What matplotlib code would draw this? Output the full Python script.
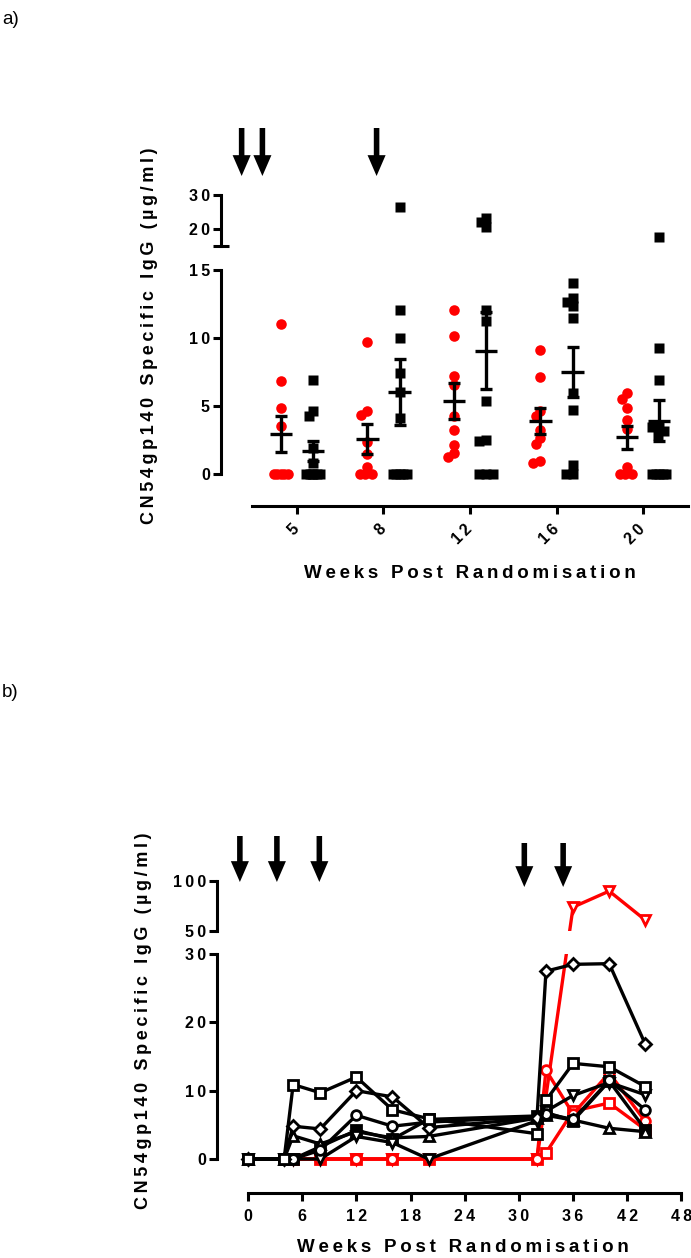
import numpy as np
import matplotlib
matplotlib.use('Agg')
import matplotlib.pyplot as plt
from matplotlib.transforms import blended_transform_factory

plt.rcParams['font.family'] = ['Liberation Sans', 'DejaVu Sans']
plt.rcParams['font.weight'] = 'bold'

RED = '#ff0000'
THIN = '\u2009'
W, H = 691, 1258

# ---------------- panel a: scatter per visit ----------------
weeks_a = ['5', '8', '12', '16', '20']
red_a_w5 = [11.0, 6.8, 4.8, 3.5, 0, 0, 0, 0, 0]
red_a_w8 = [9.7, 4.6, 4.3, 2.3, 1.4, 0.5, 0, 0, 0]
red_a_w12 = [12.0, 10.1, 7.2, 6.5, 4.2, 3.2, 2.1, 1.5, 1.2]
red_a_w16 = [9.1, 7.1, 4.6, 4.2, 3.2, 2.6, 2.2, 0.9, 0.8]
red_a_w20 = [5.9, 5.5, 4.8, 3.9, 3.3, 0.5, 0, 0, 0]
blk_a_w5 = [6.9, 4.6, 4.2, 1.9, 0.8, 0, 0, 0, 0, 0, 0]
blk_a_w8 = [26.4, 12.0, 10.0, 7.4, 6.0, 4.1, 0, 0, 0, 0, 0]
blk_a_w12 = [23.3, 22.0, 20.7, 12.0, 11.2, 5.3, 2.5, 2.4, 0, 0, 0]
blk_a_w16 = [14.0, 12.9, 12.6, 12.3, 11.4, 5.9, 4.7, 0.6, 0, 0]
blk_a_w20 = [17.6, 9.2, 6.9, 3.5, 3.4, 3.1, 2.8, 0, 0, 0, 0, 0]
red_a = [red_a_w5, red_a_w8, red_a_w12, red_a_w16, red_a_w20]
blk_a = [blk_a_w5, blk_a_w8, blk_a_w12, blk_a_w16, blk_a_w20]
arrows_a = [-0.64, -0.40, 0.92]   # vaccination arrows, in category units

# ---------------- panel b: individual time courses ----------------
weeks_b = [0, 4, 5, 8, 12, 16, 20, 32, 33, 36, 40, 44]
nan = np.nan
blk_square = [0, 0, 10.9, 9.7, 12.0, 7.2, 5.9, 3.7, 8.6, 14.0, 13.5, 10.6]
blk_diamond = [0, 0, 4.8, 4.4, 10.0, 9.1, 4.6, 6.0, 27.5, 28.5, 28.6, 16.8]
blk_circle = [0, 0, 0, 1.3, 6.4, 4.8, 5.4, 6.2, 6.6, 5.8, 11.5, 7.2]
blk_tri_up = [0, 0, 3.4, 2.2, 4.0, 3.1, 3.3, 6.0, 6.4, 5.7, 4.5, 4.0]
blk_tri_dn = [0, 0, 0, 0, 3.3, 2.4, 0, 5.6, 7.0, 9.3, 11.2, 9.4]
blk_filled = [0, 0, 0, 1.8, 4.2, 2.9, 5.8, 6.3, 6.8, 5.6, 11.4, 4.3]
red_tri_dn = [nan, nan, 0, 0, 0, 0, 0, 0, nan, 74, 90, 61]
red_square = [nan, nan, 0, 0, 0, 0, 0, 0, 0.9, 7.0, 8.2, 4.3]
red_circle = [nan, nan, 0, 0, 0, 0, 0, 0, 13.0, 6.6, 12.6, 5.5]
arrows_b = [-0.9, 3.2, 7.9, 30.6, 34.9]   # weeks


def spaced(s):
    return THIN.join(str(s))


def rect(left, top, right, bottom):
    return [left / W, 1 - bottom / H, (right - left) / W, (bottom - top) / H]


def swarm(vals, to_px, dmin=7.0, maxoff=7.0):
    # simple deterministic beeswarm in pixel space
    cand = sorted(np.arange(-maxoff, maxoff + 0.25, 0.5), key=abs)
    placed, offs = [], []
    for v in vals:
        y = to_px(v)
        best, best_d = 0.0, -1.0
        for c in cand:
            d = min([np.hypot(c - px, y - py) for px, py in placed], default=1e9)
            if d >= dmin:
                best = c
                break
            if d > best_d:
                best, best_d = c, d
        placed.append((best, y))
        offs.append(best)
    return np.array(offs)


def style_axis(ax):
    for s in ('top', 'right'):
        ax.spines[s].set_visible(False)
    for s in ax.spines.values():
        s.set_linewidth(2.2)
    ax.tick_params(width=2.2, length=6, labelsize=11.5, pad=2)


def add_arrow(ax, x, top_px, tip_px):
    tr = blended_transform_factory(ax.transData, fig.transFigure)
    ax.annotate('', xy=(x, 1 - tip_px / H), xytext=(x, 1 - top_px / H),
                xycoords=tr, textcoords=tr, annotation_clip=False,
                arrowprops=dict(arrowstyle='simple,head_length=0.75,head_width=0.65,tail_width=0.2',
                                mutation_scale=20, fc='black', ec='black', lw=0,
                                shrinkA=0, shrinkB=0))


fig = plt.figure(figsize=(W / 100, H / 100), dpi=100)

# ======== panel a ========
A_X0, A_DX = 297.0, 86.5          # px of first category, px per category
A_Y0, A_PY, A_PY_HI = 473.5, 13.6, 3.4
A_BREAK = 15
xl_a = ((221 - A_X0) / A_DX, (690 - A_X0) / A_DX)

axa = fig.add_axes(rect(221, A_Y0 - A_BREAK * A_PY, 690, A_Y0 + 1.5 * A_PY))
axa_hi = fig.add_axes(rect(221, 195, 690, 246))
for ax in (axa, axa_hi):
    style_axis(ax)
    ax.set_xlim(*xl_a)
axa.set_ylim(-1.5, A_BREAK)
axa_hi.set_ylim(A_BREAK, 30)


def a_px(v):
    return v * A_PY if v <= A_BREAK else A_BREAK * A_PY + 24 + (v - A_BREAK) * A_PY_HI


for i in range(len(weeks_a)):
    for vals, shift, mk, col, ms in ((red_a[i], -0.185, 'o', RED, 7.6),
                                     (blk_a[i], 0.185, 's', 'black', 7.0)):
        v = np.asarray(vals, float)
        xs = i + shift + swarm(v, a_px) / A_DX
        lo = v <= A_BREAK
        axa.plot(xs[lo], v[lo], ls='none', marker=mk, ms=ms, color=col, mec='none', zorder=2)
        axa_hi.plot(xs[~lo], v[~lo], ls='none', marker=mk, ms=ms, color=col, mec='none', zorder=2)
        m = v.mean()
        sem = v.std(ddof=1) / np.sqrt(len(v))
        axa.errorbar(i + shift, m, yerr=sem, color='black', elinewidth=2.4, capsize=4,
                     capthick=2.4, zorder=3)
        axa.hlines(m, i + shift - 0.13, i + shift + 0.13, color='black', lw=2.4, zorder=3)

axa.spines['left'].set_bounds(0, A_BREAK)
axa.set_yticks([0, 5, 10, 15], [spaced(t) for t in (0, 5, 10, 15)])
axa.set_yticks([A_BREAK], minor=True)
axa.tick_params(axis='y', which='minor', direction='inout', length=11.5, width=2.2)
axa.spines['bottom'].set_position(('outward', 8.5))
axa.spines['bottom'].set_bounds((252 - A_X0) / A_DX, (688 - A_X0) / A_DX)
axa.set_xticks(range(len(weeks_a)))
axa.set_xticklabels([spaced(w) for w in weeks_a], rotation=45, ha='right', va='center',
                    rotation_mode='anchor')
axa.tick_params(axis='x', length=6, pad=9)

axa_hi.spines['bottom'].set_visible(False)
axa_hi.spines['left'].set_bounds(A_BREAK, 30)
axa_hi.set_xticks([])
axa_hi.set_yticks([20, 30], [spaced(20), spaced(30)])
axa_hi.set_yticks([A_BREAK], minor=True)
axa_hi.tick_params(axis='y', which='minor', direction='inout', length=11.5, width=2.2)

for xa in arrows_a:
    add_arrow(axa_hi, xa, 128, 176)

# ======== panel b ========
B_X0, B_DX = 248.0, 9.03          # px of week 0, px per week
B_Y0, B_PY = 1159.0, 6.83         # px of 0, px per ug/ml (lower segment)
LO_TOP, HI_BOT = 30.0, 50.0
GAP = 23.0 / B_PY                 # gap between segments, in lower units
K_HI = 1.0 / B_PY                 # upper segment is 1 px per ug/ml


def fwd(v):
    v = np.asarray(v, float)
    return np.where(v <= LO_TOP, v,
                    np.where(v >= HI_BOT, LO_TOP + GAP + (v - HI_BOT) * K_HI,
                             LO_TOP + (v - LO_TOP) * GAP / (HI_BOT - LO_TOP)))


def inv(u):
    u = np.asarray(u, float)
    return np.where(u <= LO_TOP, u,
                    np.where(u >= LO_TOP + GAP, HI_BOT + (u - LO_TOP - GAP) / K_HI,
                             LO_TOP + (u - LO_TOP) * (HI_BOT - LO_TOP) / GAP))


lo_top_px = B_Y0 - LO_TOP * B_PY
hi_bot_px = lo_top_px - GAP * B_PY
hi_top_px = hi_bot_px - (100 - HI_BOT) * K_HI * B_PY
xl_b = ((217 - B_X0) / B_DX, (686 - B_X0) / B_DX)

axb = fig.add_axes(rect(217, lo_top_px, 686, B_Y0 + 1.5 * B_PY))
axb_hi = fig.add_axes(rect(217, hi_top_px, 686, hi_bot_px))
for ax in (axb, axb_hi):
    style_axis(ax)
    ax.set_yscale('function', functions=(fwd, inv))
    ax.set_xlim(*xl_b)
axb.set_ylim(-1.5, LO_TOP)
axb_hi.set_ylim(HI_BOT, 100)

series_b = [
    (red_tri_dn, 'v', RED, False, 7.5),
    (red_square, 's', RED, False, 7.0),
    (red_circle, 'o', RED, False, 7.0),
    (blk_filled, 's', 'black', True, 7.0),
    (blk_tri_up, '^', 'black', False, 7.5),
    (blk_tri_dn, 'v', 'black', False, 7.5),
    (blk_circle, 'o', 'black', False, 7.0),
    (blk_diamond, 'D', 'black', False, 6.0),
    (blk_square, 's', 'black', False, 7.0),
]
wk = np.asarray(weeks_b, float)
for k, (vals, mk, col, filled, ms) in enumerate(series_b):
    y = np.asarray(vals, float)
    ok = ~np.isnan(y)
    for ax in (axb, axb_hi):
        ax.plot(wk[ok], y[ok], color=col, lw=2.4, marker=mk, ms=ms,
                mfc=col if filled else 'white', mec=col, mew=2.0, zorder=2 + k * 0.1)

axb.spines['left'].set_bounds(0, LO_TOP)
axb.set_yticks([0, 10, 20, 30], [spaced(t) for t in (0, 10, 20, 30)])
axb.set_yticks([LO_TOP], minor=True)
axb.tick_params(axis='y', which='minor', direction='inout', length=11.5, width=2.2)
axb.spines['bottom'].set_position(('outward', 17.1))
axb.spines['bottom'].set_bounds(0, 48)
xt_b = list(range(0, 49, 6))
axb.set_xticks(xt_b, [spaced(t) for t in xt_b])
axb.tick_params(axis='x', length=5.5, pad=6)

axb_hi.spines['bottom'].set_visible(False)
axb_hi.spines['left'].set_bounds(HI_BOT, 100)
axb_hi.set_xticks([])
axb_hi.set_yticks([50, 100], [spaced(50), spaced(100)])
axb_hi.set_yticks([HI_BOT], minor=True)
axb_hi.tick_params(axis='y', which='minor', direction='inout', length=11.5, width=2.2)

for j, xa in enumerate(arrows_b):
    if j < 3:
        add_arrow(axb_hi, xa, 836, 882)
    else:
        add_arrow(axb_hi, xa, 843, 887)

# ======== labels ========
ylab = 'CN54gp140 Specific IgG (\u00b5g/ml)'
xlab = 'Weeks Post Randomisation'
fig.text(150 / W, 1 - 336 / H, spaced(ylab), rotation=90, ha='center', va='center', fontsize=13)
fig.text(143 / W, 1 - 1021 / H, spaced(ylab), rotation=90, ha='center', va='center', fontsize=13)
fig.text(470 / W, 1 - 573 / H, spaced(xlab), ha='center', va='center', fontsize=13.5)
fig.text(463 / W, 1 - 1248 / H, spaced(xlab), ha='center', va='center', fontsize=13.5)
fig.text(2 / W, 1 - 20 / H, 'a)', ha='left', va='center', fontsize=13.5, fontweight='normal')
fig.text(2 / W, 1 - 692 / H, 'b)', ha='left', va='center', fontsize=13.5, fontweight='normal')

fig.savefig('out.png', dpi=100, facecolor='white')
